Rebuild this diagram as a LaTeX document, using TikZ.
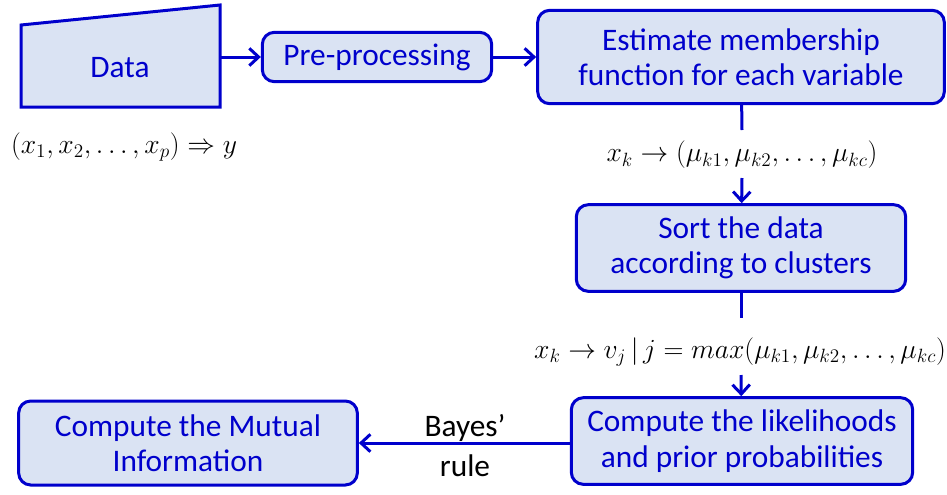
\documentclass[tikz,border=0pt]{standalone}
\usepackage{fontspec}
\setmainfont{Carlito}
\usetikzlibrary{arrows.meta}
\definecolor{boxblue}{RGB}{0,0,204}
\definecolor{boxfill}{RGB}{218,227,243}
\begin{document}
\begin{tikzpicture}[%
    x=0.75pt,
    y=-0.75pt,
    block/.style={
      rectangle,
      draw=boxblue,
      line width=2.25pt,
      fill=boxfill,
      text=boxblue,
      align=center,
      rounded corners=9pt,
      font=\fontsize{23.5}{26.5}\selectfont
    },
    link/.style={
      draw=boxblue,
      line width=2.25pt
    },
    flow/.style={
      link,
      -{Straight Barb[length=7pt,width=13pt]}
    },
    formula/.style={
      font=\fontsize{20}{24}\selectfont,
      inner sep=0pt
    },
    rulelbl/.style={
      font=\fontsize{23.5}{26}\selectfont,
      inner sep=0pt
    },
  ]
    \useasboundingbox (0,0) rectangle (947,494);
    % data source
    \draw[link, fill=boxfill] (21,25) -- (220,5) -- (220,107) -- (21,107) -- cycle;
    \node[text=boxblue, font=\fontsize{23.5}{26}\selectfont] (data) at (120,68) {Data};
    \coordinate (dataout) at (220,57);
    \node[formula] (xy) at (124,147) {$\left(x_1,x_2,\ldots,x_p\right)\Rightarrow y$};
    % top row
    \node[block, minimum width=172pt, minimum height=37pt] (pre) at (377,57) {Pre-processing};
    \node[block, minimum width=305pt, minimum height=70pt] (estimate) at (741,57) {Estimate membership\\function for each variable};
    % middle
    \node[formula] (mu) at (742,155) {$x_k\rightarrow\left(\mu_{k1},\mu_{k2},\ldots,\mu_{kc}\right)$};
    \coordinate (mutop) at (742,130);
    \coordinate (mubot) at (742,178);
    \node[block, minimum width=247pt, minimum height=65pt] (sort) at (741,248) {Sort the data\\according to clusters};
    \node[formula, font=\fontsize{19.5}{23}\selectfont] (vj) at (740,352) {$x_k\rightarrow v_j\,|\,j=max\!\left(\mu_{k1},\mu_{k2},\ldots,\mu_{kc}\right)$};
    \coordinate (vjtop) at (741,318);
    \coordinate (vjbot) at (741,375);
    % bottom row
    \node[block, minimum width=256pt, minimum height=65pt] (like) at (742,441) {Compute the likelihoods\\and prior probabilities};
    \node[block, minimum width=254pt, minimum height=63pt] (mutual) at (188,443) {Compute the Mutual\\Information};
    \node[rulelbl] (bayes) at (465,428) {Bayes'};
    \node[rulelbl] (rule) at (465,466) {rule};
    % connectors
    \draw[flow] (dataout) -- (pre);
    \draw[flow] (pre) -- (estimate);
    \draw[link] (estimate) -- (mutop);
    \draw[flow] (mubot) -- (sort);
    \draw[link] (sort) -- (vjtop);
    \draw[flow] (vjbot) -- (like);
    \draw[flow] (like.west |- mutual) -- (mutual);
  \end{tikzpicture}
\end{document}
